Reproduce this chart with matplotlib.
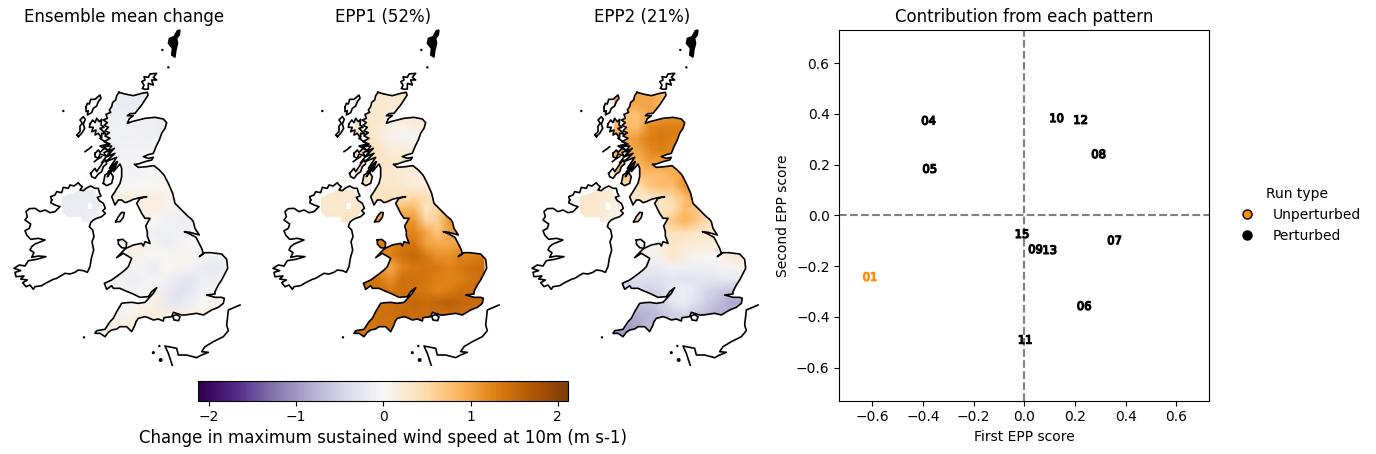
import numpy as np
import matplotlib
matplotlib.use("Agg")
import matplotlib.pyplot as plt
import matplotlib.patheffects as pe
from matplotlib.lines import Line2D
from matplotlib.path import Path

# map coordinates are arbitrary east/south units
grid_x = [290, 325, 360, 395, 430, 465, 500, 535, 570, 605, 640, 675]
grid_y = [217, 252, 287, 322, 357, 392, 427, 462, 497, 532, 567, 602, 637, 672, 707, 742, 777, 812, 847, 882, 917, 952]

mean_change = [
    [-.15, -.15, -.15, -.15, -.15, -.15, -.15, -.15, -.15, -.15, -.15, -.15],
    [-.15, -.15, -.15, -.15, -.15, -.15, -.15, -.15, -.15, -.15, -.15, -.15],
    [-.12, -.12, -.12, -.12, -.12, -.13, -.15, -.18, -.18, -.18, -.18, -.18],
    [-.10, -.10, -.10, -.10, -.12, -.12, -.15, -.20, -.20, -.20, -.20, -.20],
    [-.10, -.10, -.10, -.08, -.08, -.10, -.15, -.18, -.18, -.18, -.18, -.18],
    [-.10, -.10, -.05, -.05, -.05, -.05, -.10, -.10, -.10, -.10, -.10, -.10],
    [-.10, -.10, -.05, -.05, -.03, .00, .00, .00, .00, .00, .00, .00],
    [-.05, -.05, -.05, -.05, -.05, .00, .03, .03, .03, .03, .03, .03],
    [.00, .00, .00, -.03, .00, .03, .05, .03, .00, .00, .00, .00],
    [.10, .10, .12, .15, .15, .15, .10, .05, .00, -.05, -.05, -.05],
    [.10, .10, .10, .10, .15, .15, .05, -.08, -.10, -.10, -.10, -.10],
    [.10, .10, .10, .10, .10, .00, -.10, -.10, -.12, -.10, -.10, -.10],
    [.05, .05, .05, .05, .05, -.10, -.10, -.08, -.05, -.03, -.03, -.03],
    [.10, .10, .10, .10, .10, -.05, -.12, -.05, .00, .00, .00, .00],
    [.10, .10, .10, .10, .05, .00, .03, .05, .03, -.05, -.08, -.05],
    [-.10, -.10, -.10, -.05, -.05, -.15, .00, .05, -.05, -.15, -.20, -.15],
    [-.10, -.10, -.08, -.12, -.08, .02, -.05, -.20, -.25, -.12, -.12, -.05],
    [-.05, -.05, -.05, -.05, -.02, .05, -.15, -.30, -.25, -.08, -.05, .00],
    [-.02, -.02, -.02, .00, .05, .10, -.20, -.25, -.10, .00, .05, .10],
    [.08, .08, -.05, .05, .15, .18, .12, .10, .10, .12, .15, .15],
    [.12, .15, .10, .18, .20, .20, .15, .15, .15, .15, .15, .15],
    [.15, .15, .15, .15, .15, .15, .15, .15, .15, .15, .15, .15],
]
epp1 = [
    [.30, .30, .30, .30, .30, .30, .30, .30, .30, .30, .30, .30],
    [.25, .25, .25, .20, .25, .25, .25, .25, .25, .25, .25, .25],
    [.30, .30, .25, .20, .25, .30, .30, .30, .30, .30, .30, .30],
    [.30, .30, .20, .10, .05, .10, .20, .30, .30, .30, .30, .30],
    [.35, .35, .25, .05, -.05, .03, .10, .20, .20, .20, .20, .20],
    [.40, .40, .30, .20, .20, .25, .25, .30, .30, .30, .30, .30],
    [.40, .40, .30, .30, .25, .25, .25, .30, .30, .30, .30, .30],
    [.30, .30, .30, .25, .20, .15, .20, .30, .35, .35, .35, .35],
    [.30, .30, .30, .30, .25, .15, .20, .40, .50, .50, .50, .50],
    [.30, .30, .30, .35, .40, .50, .45, .20, .30, .50, .50, .50],
    [.60, .60, .60, .70, .85, .85, .30, .55, .90, 1.0, 1.0, 1.0],
    [1.1, 1.1, 1.1, 1.1, 1.1, 1.1, .55, .55, 1.1, 1.1, 1.1, 1.1],
    [1.2, 1.2, 1.2, 1.2, 1.2, 1.25, 1.0, .70, 1.0, 1.1, 1.1, 1.1],
    [1.35, 1.35, 1.35, 1.25, 1.35, 1.4, 1.05, .95, .95, 1.05, 1.05, 1.05],
    [1.15, 1.15, 1.15, 1.25, 1.45, 1.55, 1.35, 1.15, 1.15, 1.25, 1.25, 1.35],
    [1.05, 1.05, 1.05, .95, 1.25, 1.35, 1.4, 1.35, 1.25, 1.35, 1.45, 1.5],
    [1.45, 1.45, 1.35, 1.15, 1.45, 1.45, 1.4, 1.3, 1.25, 1.3, 1.4, 1.45],
    [1.45, 1.45, 1.45, 1.35, 1.45, 1.4, 1.35, 1.25, 1.3, 1.45, 1.45, 1.45],
    [1.35, 1.35, 1.35, 1.45, 1.45, 1.55, 1.5, 1.55, 1.65, 1.55, 1.5, 1.5],
    [1.4, 1.4, 1.45, 1.45, 1.5, 1.5, 1.45, 1.45, 1.45, 1.45, 1.45, 1.45],
    [1.4, 1.4, 1.4, 1.4, 1.4, 1.4, 1.4, 1.4, 1.4, 1.4, 1.4, 1.4],
    [1.4, 1.4, 1.4, 1.4, 1.4, 1.4, 1.4, 1.4, 1.4, 1.4, 1.4, 1.4],
]
epp2 = [
    [1.0, 1.0, 1.0, 1.0, .85, .60, .60, .60, .60, .60, .60, .60],
    [1.0, 1.0, 1.0, 1.0, .85, .70, .70, .70, .70, .70, .70, .70],
    [.75, .75, .75, 1.0, 1.05, 1.1, 1.1, 1.1, 1.1, 1.1, 1.1, 1.1],
    [.85, .85, .80, 1.2, 1.3, 1.3, 1.3, 1.3, 1.3, 1.3, 1.3, 1.3],
    [.95, .95, 1.1, 1.3, 1.35, 1.3, 1.2, 1.2, 1.2, 1.2, 1.2, 1.2],
    [.95, .95, 1.0, 1.2, 1.3, 1.2, 1.1, 1.1, 1.1, 1.1, 1.1, 1.1],
    [.85, .85, .85, 1.05, 1.05, .95, 1.05, 1.05, 1.05, 1.05, 1.05, 1.05],
    [.80, .80, .80, .80, .80, .90, 1.05, 1.05, 1.05, 1.05, 1.05, 1.05],
    [.40, .40, .40, .70, .80, .80, 1.15, 1.15, 1.15, 1.15, 1.15, 1.15],
    [.20, .20, .30, .30, .40, .50, .75, 1.15, 1.15, 1.0, 1.0, 1.0],
    [.30, .30, .30, .30, .30, .40, .80, .70, .50, .50, .50, .50],
    [.50, .50, .50, .50, .50, .70, .90, .70, .40, .30, .30, .30],
    [.30, .30, .30, .30, .30, .40, .40, .30, .30, .25, .25, .25],
    [.05, .05, .05, .05, .15, .30, .20, .20, .20, .15, .15, .15],
    [-.10, -.10, -.10, -.05, .10, .30, .15, .05, .00, .05, .20, .30],
    [-.20, -.20, -.20, -.20, -.15, -.05, -.10, -.10, -.10, -.05, -.02, .10],
    [-.35, -.35, -.35, -.35, -.30, -.25, -.30, -.25, -.25, -.20, -.20, -.20],
    [-.45, -.45, -.45, -.50, -.40, -.15, -.10, -.25, -.45, -.55, -.60, -.65],
    [-.55, -.55, -.60, -.60, -.50, -.20, -.15, -.35, -.55, -.70, -.85, -.85],
    [-.80, -.80, -.80, -.75, -.60, -.50, -.45, -.55, -.70, -.80, -.80, -.80],
    [-.95, -.95, -.85, -.70, -.60, -.55, -.55, -.60, -.70, -.80, -.80, -.80],
    [-.95, -.95, -.90, -.80, -.70, -.70, -.70, -.70, -.80, -.80, -.80, -.80],
]

ni_x = [185, 235, 280, 320]
ni_y = [510, 555, 610]
ni_mean = [[-.15, -.15, -.15, -.10], [-.15, -.15, -.15, .00], [-.15, -.15, -.05, .15]]
ni_epp1 = [[.25, .25, .25, .25], [.25, .25, .22, .30], [.30, .30, .35, .40]]
ni_epp2 = [[.25, .25, .25, .20], [.30, .25, .12, .15], [.30, .25, .12, .15]]

fields = [mean_change, epp1, epp2]
ni_fields = [ni_mean, ni_epp1, ni_epp2]
map_titles = ["Ensemble mean change", "EPP1 (52%)", "EPP2 (21%)"]

great_britain = [
    (357, 217), (375, 222), (390, 225), (400, 227), (425, 220), (442, 217), (444, 226), (435, 240), (425, 255),
    (413, 270), (405, 280), (390, 281), (382, 287), (400, 287), (388, 296), (382, 310), (395, 305),
    (415, 300), (435, 295), (465, 292), (490, 297), (500, 308), (495, 325), (485, 340), (478, 360),
    (468, 380), (460, 400), (445, 404), (430, 410), (445, 415), (460, 412), (455, 420), (435, 425),
    (415, 432), (403, 433), (415, 442), (440, 440), (462, 437), (478, 450), (492, 465), (505, 490),
    (518, 520), (525, 550), (545, 570), (565, 590), (575, 598), (580, 605), (585, 625), (598, 645), (570, 637),
    (553, 635), (570, 642), (588, 652), (605, 685), (610, 700), (598, 710), (615, 698), (632, 698),
    (665, 702), (680, 718), (683, 745), (670, 770), (665, 780), (655, 795), (645, 815), (645, 822),
    (620, 825), (645, 832), (665, 832), (673, 835), (670, 850), (655, 862), (635, 870), (610, 885),
    (590, 880), (555, 885), (545, 885), (520, 877), (515, 890), (492, 893), (490, 903), (475, 897), (460, 900),
    (445, 893), (435, 890), (415, 895), (408, 905), (405, 915), (395, 935), (385, 925), (380, 920), (360, 920), (350, 927),
    (335, 930), (325, 937), (315, 950), (300, 940), (285, 940), (290, 932), (315, 928), (330, 905), (340, 895),
    (350, 875), (365, 850), (380, 848), (395, 847), (415, 850), (435, 847), (460, 820), (470, 803), (455, 815), (445, 830),
    (420, 832), (405, 825), (395, 820), (375, 812), (360, 805), (340, 805), (335, 797), (320, 808), (313, 790), (335, 780), (360, 762),
    (375, 750), (385, 740), (395, 715), (370, 700), (350, 713), (372, 690), (378, 685), (400, 675),
    (425, 670), (430, 678), (435, 665), (450, 670), (442, 648), (442, 635), (437, 618), (450, 595), (435, 595),
    (425, 580), (410, 550), (420, 535), (440, 530), (420, 533), (400, 538), (385, 545), (375, 548), (365, 540), (355, 540),
    (345, 555), (335, 530), (345, 515), (360, 490), (365, 470), (365, 445), (360, 432), (340, 455), (352, 425),
    (328, 445), (350, 412), (318, 425), (345, 400), (320, 410), (343, 385), (322, 395), (335, 378), (310, 380),
    (330, 372), (312, 365), (330, 355), (315, 348), (328, 338), (315, 333), (325, 322), (312, 316), (322, 308),
    (310, 300), (322, 295), (318, 283), (332, 277), (328, 270), (335, 260), (338, 247), (347, 240), (350, 227),
]
ireland = [
    (155, 540), (152, 530), (165, 525), (170, 515), (185, 518), (190, 502), (205, 505), (210, 495), (222, 498),
    (235, 488), (240, 495), (247, 500), (240, 510), (250, 512), (258, 505), (272, 498), (285, 505), (295, 505),
    (298, 518), (303, 528), (292, 532), (298, 542), (310, 550), (316, 565), (308, 572), (316, 580), (305, 590),
    (290, 595), (280, 600), (272, 608), (268, 620), (278, 630), (282, 650), (276, 665), (281, 690), (274, 715),
    (270, 740), (262, 757), (250, 752), (235, 750), (225, 757), (210, 762), (195, 760), (170, 775), (160, 778),
    (140, 788), (125, 797), (105, 800), (100, 808), (90, 795), (78, 800), (68, 788), (82, 780), (62, 777),
    (72, 768), (48, 770), (45, 757), (62, 752), (42, 745), (58, 735), (75, 738), (85, 722), (110, 718),
    (138, 710), (115, 708), (95, 712), (102, 698), (90, 690), (95, 680), (105, 672), (135, 660), (115, 655),
    (92, 658), (80, 645), (75, 632), (88, 625), (92, 612), (75, 600), (82, 590), (78, 575), (88, 566),
    (105, 565), (120, 575), (135, 570), (150, 578), (165, 575), (180, 560), (165, 555), (152, 548),
]
ni_land = [
    (185, 530), (200, 525), (240, 510), (280, 508), (303, 545), (310, 570), (295, 590), (272, 597),
    (272, 606), (245, 606), (245, 592), (200, 592), (185, 575),
]
ni_gap = [(264, 548), (276, 548), (276, 568), (264, 568)]
islands = [
    [(258, 262), (262, 250), (268, 252), (272, 238), (285, 238), (300, 225), (303, 235), (295, 245), (290, 258),
     (280, 265), (275, 278), (262, 285), (265, 272), (258, 275)],
    [(235, 350), (230, 345), (240, 335), (240, 318), (247, 310), (240, 300), (250, 290), (256, 298), (250, 312),
     (254, 325), (245, 340)],
    [(270, 312), (278, 300), (285, 308), (290, 295), (298, 305), (305, 298), (303, 315), (312, 322), (300, 325),
     (318, 342), (305, 340), (305, 355), (295, 340), (285, 345), (288, 330), (275, 335), (280, 322), (268, 322)],
    [(285, 400), (295, 390), (300, 397), (315, 383), (325, 392), (312, 398), (318, 408), (300, 402), (295, 415),
     (285, 410)],
    [(272, 460), (285, 445), (290, 455), (300, 440), (310, 425), (318, 420), (320, 432), (310, 440), (305, 455),
     (295, 462), (285, 475), (275, 470)],
    [(310, 490), (315, 465), (330, 455), (340, 470), (335, 490), (320, 497)],
    [(347, 605), (355, 590), (365, 577), (373, 578), (370, 592), (360, 605)],
    [(355, 660), (368, 658), (380, 668), (378, 685), (365, 683), (355, 672)],
    [(518, 888), (530, 884), (540, 890), (536, 902), (522, 900)],
    [(428, 205), (432, 195), (425, 185), (435, 180), (432, 170), (445, 172), (450, 162), (470, 160), (460, 172),
     (470, 180), (455, 180), (460, 195), (445, 190), (445, 207), (435, 208)],
]
sea_lochs = [
    [(255, 395), (265, 388), (275, 380)],
    [(283, 425), (292, 418), (305, 410)],
    [(300, 355), (325, 372), (300, 378), (330, 395), (305, 428)],
    [(345, 440), (322, 470), (350, 425), (325, 455)],
]
shetland = [
    (532, 32), (540, 30), (538, 45), (530, 55), (533, 70), (528, 90), (525, 112), (515, 105), (517, 85), (505, 70),
    (508, 55), (522, 50),
]
france = [
    (720, 855), (685, 870), (680, 915), (685, 932), (670, 950), (640, 965), (615, 980), (605, 995),
    (625, 997), (605, 1005), (590, 1013), (560, 1005), (535, 1005), (530, 985), (495, 978), (505, 1000),
    (518, 1040),
]
dots_x = [487, 505, 190, 252, 478, 460, 482]
dots_y = [90, 142, 273, 952, 978, 998, 1020]
dots_size = [3, 3, 3, 3, 3, 5, 8]

run_labels = ["01", "04", "05", "06", "07", "08", "09", "10", "11", "12", "13", "15"]
first_score = [-.609, -.378, -.373, .236, .356, .293, .044, .127, .003, .222, .100, -.009]
second_score = [-.244, .372, .182, -.359, -.100, .240, -.135, .382, -.492, .375, -.138, -.075]
run_colours = ["darkorange"] + ["black"] * 11

FIG_W, FIG_H = 1376, 454


def px_axes(fig, left, right, top, bottom):
    return fig.add_axes([left / FIG_W, 1 - bottom / FIG_H, (right - left) / FIG_W, (bottom - top) / FIG_H])


def closed_path(points):
    pts = np.array(points + [points[0]], dtype=float)
    return Path(pts, closed=True)


fig = plt.figure(figsize=(FIG_W / 100, FIG_H / 100), dpi=100)
land_clip = Path.make_compound_path(*[closed_path(p) for p in [great_britain] + islands[:-2]])

for i in range(3):
    ax = px_axes(fig, -5 + 259 * i, 254 + 259 * i, 30, 366)
    mesh = ax.pcolormesh(grid_x, grid_y, np.array(fields[i]), shading="gouraud", cmap="PuOr_r", vmin=-2.12, vmax=2.12)
    mesh.set_clip_path(land_clip, transform=ax.transData)
    ni_mesh = ax.pcolormesh(ni_x, ni_y, np.array(ni_fields[i]), shading="gouraud", cmap="PuOr_r", vmin=-2.12, vmax=2.12)
    ni_mesh.set_clip_path(closed_path(ni_land), transform=ax.transData)
    ax.fill(*zip(*ni_gap), color="white", lw=0)

    for poly in [great_britain, ireland] + islands:
        pts = poly + [poly[0]]
        ax.plot(*zip(*pts), color="black", lw=1.2, solid_joinstyle="round")
    for line in sea_lochs:
        ax.plot(*zip(*line), color="black", lw=1.2)
    ax.plot(*zip(*france), color="black", lw=1.2)
    ax.fill(*zip(*shetland), color="black", lw=1, clip_on=False)
    ax.scatter(dots_x, dots_y, s=dots_size, color="black", lw=0)

    ax.set_xlim(-15, 762)
    ax.set_ylim(1038, 30)
    ax.axis("off")
    ax.set_title(map_titles[i], fontsize=12)

cax = px_axes(fig, 198.3, 568.3, 381, 400.7)
sm = plt.cm.ScalarMappable(cmap="PuOr_r", norm=plt.Normalize(-2.12, 2.12))
cbar = fig.colorbar(sm, cax=cax, orientation="horizontal", ticks=[-2, -1, 0, 1, 2])
cbar.set_label("Change in maximum sustained wind speed at 10m (m s-1)", fontsize=12, labelpad=3)

ax = px_axes(fig, 839.3, 1209.3, 30.3, 400.5)
ax.axhline(0, color="grey", ls="--", lw=1.5, zorder=1)
ax.axvline(0, color="grey", ls="--", lw=1.5, zorder=1)
for lab, x, y, col in zip(run_labels, first_score, second_score, run_colours):
    ax.text(x, y, lab, color=col, fontsize=8.3, ha="center", va="center",
            path_effects=[pe.withStroke(linewidth=0.9, foreground=col)])
ax.set_xlim(-.73, .73)
ax.set_ylim(-.73, .73)
ax.set_xticks([-.6, -.4, -.2, 0, .2, .4, .6])
ax.set_yticks([-.6, -.4, -.2, 0, .2, .4, .6])
ax.set_xlabel("First EPP score")
ax.set_ylabel("Second EPP score")
ax.set_title("Contribution from each pattern", fontsize=12)

handles = [
    Line2D([], [], ls="", marker="o", ms=6.5, mfc="darkorange", mec="black", label="Unperturbed"),
    Line2D([], [], ls="", marker="o", ms=6.5, mfc="black", mec="black", label="Perturbed"),
]
fig.legend(handles=handles, title="Run type", frameon=False, loc="center left",
           bbox_to_anchor=(1221 / FIG_W, 1 - 214.7 / FIG_H))

fig.savefig("out.png", dpi=100)
